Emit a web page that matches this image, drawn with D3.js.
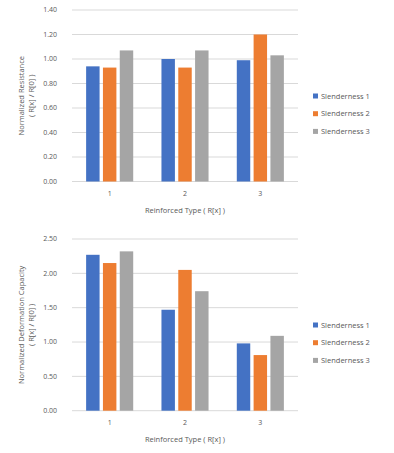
<!DOCTYPE html>
<html><head><meta charset="utf-8">
<script src="https://cdn.jsdelivr.net/npm/d3@7"></script>
<style>body{margin:0;background:#fff}svg{display:block}text{font-family:"Open Sans",sans-serif;fill:#595959}</style>
</head><body><svg id="c" width="394" height="453"></svg>
<script>
const categories = ["1","2","3"];
const seriesNames = ["Slenderness 1","Slenderness 2","Slenderness 3"];
const colors = ["#4472C4","#ED7D31","#A5A5A5"];
const resistance = [[0.94,1.00,0.99],[0.93,0.93,1.20],[1.07,1.07,1.03]];
const deformation = [[2.27,1.47,0.98],[2.15,2.05,0.81],[2.32,1.74,1.09]];
const resTicks = [0,0.2,0.4,0.6,0.8,1.0,1.2,1.4];
const defTicks = [0,0.5,1.0,1.5,2.0,2.5];

const svg = d3.select("#c");
function chart(cfg){
  const g = svg.append("g");
  const x = d3.scaleBand().domain(categories).range([72,298]).paddingInner(0).paddingOuter(0);
  const y = d3.scaleLinear().domain([0,cfg.max]).range([cfg.y0,cfg.y1]);
  const xs = d3.scaleBand().domain(seriesNames).range([0,x.bandwidth()]).paddingInner(0.2).paddingOuter(0.84);
  g.selectAll("line.grid").data(cfg.ticks).join("line").attr("class","grid")
    .attr("x1",72).attr("x2",298).attr("y1",d=>y(d)).attr("y2",d=>y(d))
    .attr("stroke","#D9D9D9").attr("stroke-width",1);
  g.selectAll("text.yt").data(cfg.ticks).join("text").attr("class","yt")
    .attr("x",57).attr("y",d=>y(d)).attr("dy","0.35em").attr("text-anchor","end")
    .style("font-size","7px").text(d=>d.toFixed(2));
  seriesNames.forEach((s,i)=>{
    g.selectAll("rect.s"+i).data(cfg.data[i]).join("rect").attr("class","s"+i)
      .attr("x",(d,j)=>x(categories[j])+xs(s)).attr("width",xs.bandwidth())
      .attr("y",d=>y(d)).attr("height",d=>y(0)-y(d)).attr("fill",colors[i]);
  });
  g.selectAll("text.xt").data(categories).join("text").attr("class","xt")
    .attr("x",d=>x(d)+x.bandwidth()/2).attr("y",cfg.y0+14).attr("text-anchor","middle")
    .style("font-size","7px").text(d=>d);
  g.append("text").attr("x",185).attr("y",cfg.y0+31).attr("text-anchor","middle")
    .style("font-size","7.5px").text("Reinforced Type ( R[x] )");
  const cy=(cfg.y0+cfg.y1)/2;
  const t = g.append("text").attr("transform",`translate(24,${cy}) rotate(-90)`).attr("text-anchor","middle").style("font-size","7.5px");
  t.append("tspan").attr("x",0).attr("dy",0).text(cfg.title);
  t.append("tspan").attr("x",0).attr("dy","1.35em").text("( R[x] / R[0] )");
  const lg = g.selectAll("g.lg").data(seriesNames).join("g").attr("class","lg")
    .attr("transform",(d,i)=>`translate(313,${cfg.ly+i*17.7})`);
  lg.append("rect").attr("x",0).attr("y",-2.5).attr("width",5).attr("height",5).attr("fill",(d,i)=>colors[i]);
  lg.append("text").attr("x",8).attr("y",0).attr("dy","0.35em").style("font-size","7.5px").text(d=>d);
}
chart({data:resistance,max:1.4,ticks:resTicks,y0:181.5,y1:10,title:"Normalized Resistance",ly:96});
chart({data:deformation,max:2.5,ticks:defTicks,y0:410.7,y1:239,title:"Normalized Deformation Capacity",ly:325});
</script></body></html>
